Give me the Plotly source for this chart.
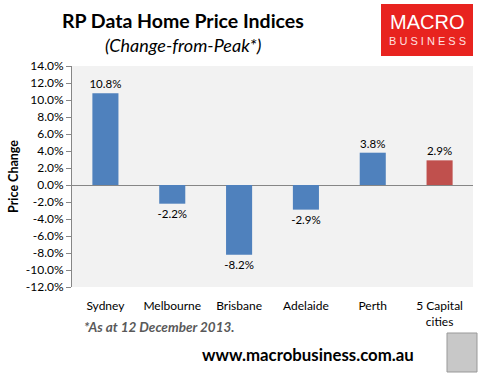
import plotly.graph_objects as go

cities = ["Sydney", "Melbourne", "Brisbane", "Adelaide", "Perth", "5 Capital<br>cities"]
changes = [10.8, -2.2, -8.2, -2.9, 3.8, 2.9]
colors = ["#4f81bd"] * 5 + ["#c0504d"]
tick_vals = [v for v in range(-12, 15, 2)]
tick_text = [f"{v:.1f}%" for v in tick_vals]
labels = [f"{v:.1f}%" for v in changes]

FONT = "Lato"

fig = go.Figure()
fig.add_trace(go.Bar(
    x=cities, y=changes, marker=dict(color=colors, line=dict(width=0)),
    text=labels, textposition="outside", cliponaxis=False, constraintext="none",
    textfont=dict(family=FONT, size=11.5, color="#000000"), hoverinfo="skip",
))

fig.update_layout(
    width=488, height=377,
    margin=dict(l=72, r=15, t=66, b=90),
    paper_bgcolor="white", plot_bgcolor="#f2f2f2",
    bargap=0.61, showlegend=False,
    font=dict(family=FONT, size=11, color="#000000"),
    xaxis=dict(showgrid=False, showline=False, ticks="", tickfont=dict(size=12),
               automargin=False, ticklabelstandoff=10),
    yaxis=dict(range=[-12, 14], tickvals=tick_vals, ticktext=tick_text, automargin=False,
               showgrid=False, showline=True, linecolor="#868686", linewidth=1,
               ticks="outside", ticklen=5, tickcolor="#868686",
               zeroline=True, zerolinecolor="#868686", zerolinewidth=1,
               tickfont=dict(size=12),
               title=dict(text="<b>Price Change</b>", font=dict(size=12.5), standoff=4)),
)

# header texts
fig.add_annotation(xref="paper", yref="paper", x=(183 - 72) / 401, y=1 + (66 - 20) / 221,
                   text="<b>RP Data Home Price Indices</b>", showarrow=False,
                   font=dict(family=FONT, size=19.5, color="#000000"), xanchor="center", yanchor="middle")
fig.add_annotation(xref="paper", yref="paper", x=(183 - 72) / 401, y=1 + (66 - 45) / 221,
                   text="<i>(Change-from-Peak*)</i>", showarrow=False,
                   font=dict(family=FONT, size=18, color="#000000"), xanchor="center", yanchor="middle")
# logo box
fig.add_shape(type="rect", xref="paper", yref="paper",
              x0=(381 - 72) / 401, x1=(473 - 72) / 401,
              y0=1 + (66 - 56) / 221, y1=1 + (66 - 4) / 221,
              fillcolor="#e8231f", line=dict(width=0))
fig.add_annotation(xref="paper", yref="paper", x=(427 - 72) / 401, y=1 + (66 - 22) / 221,
                   text="MACRO", showarrow=False,
                   font=dict(family="Liberation Sans", size=20, color="#ffffff"),
                   xanchor="center", yanchor="middle")
fig.add_annotation(xref="paper", yref="paper", x=(427 - 72) / 401, y=1 + (66 - 41) / 221,
                   text="B U S I N E S S", showarrow=False,
                   font=dict(family="Liberation Sans", size=11, color="#ffe0e0"),
                   xanchor="center", yanchor="middle")
# footnote
fig.add_annotation(xref="paper", yref="paper", x=(82 - 72) / 401, y=-(327 - 287) / 221,
                   text="<b><i>*As at 12 December 2013.</i></b>", showarrow=False,
                   font=dict(family=FONT, size=13.5, color="#595959"), xanchor="left", yanchor="middle")
fig.add_annotation(xref="paper", yref="paper", x=(308 - 72) / 401, y=-(354 - 287) / 221,
                   text="<b>www.macrobusiness.com.au</b>", showarrow=False,
                   font=dict(family=FONT, size=16.8, color="#000000"), xanchor="center", yanchor="middle")
# fox image placeholder
fig.add_shape(type="rect", xref="paper", yref="paper",
              x0=(447 - 72) / 401, x1=(477 - 72) / 401,
              y0=-(372 - 287) / 221, y1=-(333 - 287) / 221,
              fillcolor="#c8c8c8", line=dict(color="#999999", width=1))

fig.write_html("out.html", config={"displayModeBar": False},
               post_script="document.body.style.margin='0';")
